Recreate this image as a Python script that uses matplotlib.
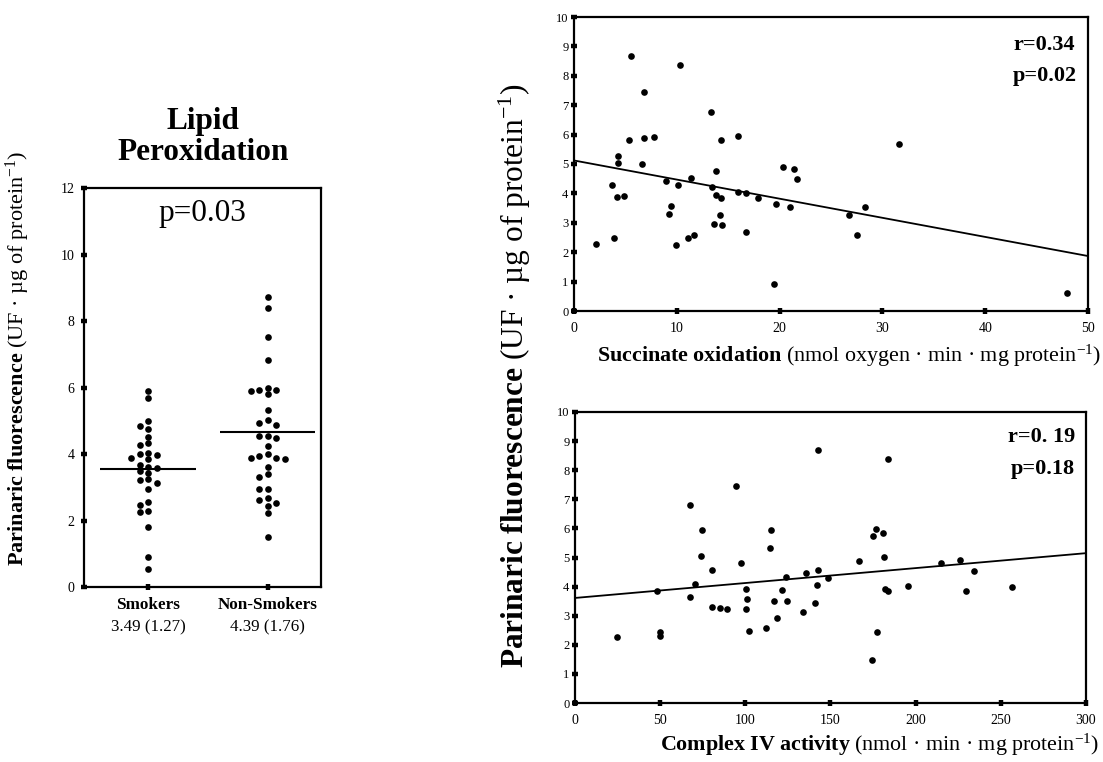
import matplotlib
matplotlib.use('Agg')
import matplotlib.pyplot as plt
import numpy as np

plt.rcParams['font.family'] = ['Liberation Serif', 'DejaVu Serif']
plt.rcParams['mathtext.fontset'] = 'custom'
plt.rcParams['mathtext.rm'] = 'Liberation Serif'
plt.rcParams['mathtext.bf'] = 'Liberation Serif:bold'
plt.rcParams['mathtext.it'] = 'Liberation Serif:italic'

# ---------------- data ----------------
categories = ['Smokers', 'Non-Smokers']
category_stats = ['3.49 (1.27)', '4.39 (1.76)']
smokers_values = [5.90, 5.67, 5.00, 4.85, 4.76, 4.52, 4.33, 4.26, 4.03, 4.00, 3.98,
                  3.87, 3.84, 3.68, 3.60, 3.57, 3.48, 3.42, 3.24, 3.21, 3.14, 2.94,
                  2.55, 2.48, 2.28, 2.26, 1.81, 0.89, 0.54]
nonsmokers_values = [8.72, 8.40, 7.51, 6.84, 6.00, 5.92, 5.92, 5.90, 5.81, 5.32, 5.01,
                     4.94, 4.86, 4.53, 4.53, 4.47, 4.24, 3.99, 3.93, 3.87, 3.87, 3.86,
                     3.60, 3.39, 3.31, 2.95, 2.94, 2.69, 2.61, 2.53, 2.44, 2.24, 1.49]
group_lines = [3.55, 4.66]
left_p_text = 'p=0.03'

succ_x = [5.5, 10.3, 6.8, 13.35, 5.36, 6.8, 7.8, 15.95, 14.26, 31.6, 4.28, 4.28, 6.6,
          20.3, 21.4, 21.7, 13.8, 11.4, 8.93, 10.15, 3.74, 13.45, 4.2, 4.86, 13.8,
          14.26, 15.95, 16.7, 17.87, 19.66, 21.0, 9.44, 9.27, 14.16, 26.74, 28.3,
          13.65, 14.43, 16.7, 11.63, 11.13, 27.5, 3.9, 2.1, 9.95, 19.5, 48.0]
succ_y = [8.67, 8.36, 7.45, 6.78, 5.83, 5.9, 5.92, 5.95, 5.8, 5.69, 5.28, 5.02, 5.0,
          4.91, 4.84, 4.48, 4.77, 4.54, 4.43, 4.27, 4.3, 4.22, 3.88, 3.9, 3.96,
          3.84, 4.06, 4.0, 3.85, 3.65, 3.54, 3.58, 3.31, 3.25, 3.27, 3.53,
          2.96, 2.93, 2.7, 2.6, 2.47, 2.6, 2.47, 2.29, 2.23, 0.91, 0.6]
succ_fit = [5.12, -0.065]          # intercept, slope
succ_stats = ['r=0.34', 'p=0.02']

cox_x = [142.8, 183.9, 94.5, 67.8, 74.7, 114.9, 176.8, 174.7, 180.9, 114.3, 74.1,
         181.5, 97.6, 166.8, 215.1, 225.9, 234.4, 80.2, 142.8, 135.8, 123.6, 148.3,
         70.7, 142.2, 48.1, 100.2, 121.8, 181.9, 183.9, 195.7, 256.4, 229.5, 67.4,
         101.2, 116.7, 124.4, 140.9, 80.2, 84.9, 89.0, 100.6, 133.6, 118.3, 112.2,
         102.0, 177.2, 49.7, 50.1, 24.4, 174.1]
cox_y = [8.70, 8.39, 7.47, 6.82, 5.95, 5.93, 5.99, 5.73, 5.84, 5.32, 5.05,
         5.02, 4.82, 4.87, 4.80, 4.92, 4.52, 4.56, 4.58, 4.46, 4.33, 4.29,
         4.09, 4.05, 3.85, 3.91, 3.89, 3.92, 3.86, 4.01, 3.98, 3.85, 3.64,
         3.58, 3.51, 3.51, 3.42, 3.30, 3.28, 3.23, 3.23, 3.12, 2.92, 2.57,
         2.49, 2.45, 2.44, 2.29, 2.26, 1.49]
cox_fit = [3.61, 0.00513]
cox_stats = ['r=0. 19', 'p=0.18']

left_yticks = [0, 2, 4, 6, 8, 10, 12]
right_yticks = list(range(0, 11))
succ_xticks = [0, 10, 20, 30, 40, 50]
cox_xticks = [0, 50, 100, 150, 200, 250, 300]

ylabel_text = r'$\mathbf{Parinaric\ fluorescence}$ (UF · µg of protein$^{-1}$)'
succ_label = r'$\mathbf{Succinate\ oxidation}$ (nmol oxygen · min · mg protein$^{-1}$)'
cox_label = r'$\mathbf{Complex\ IV\ activity}$ (nmol · min · mg protein$^{-1}$)'

# ---------------- figure ----------------
W, H = 1103, 762
fig = plt.figure(figsize=(W / 100, H / 100), dpi=100)

def px_axes(l, r, t, b):
    return fig.add_axes([l / W, 1 - b / H, (r - l) / W, (b - t) / H])

def style_axes(ax):
    for s in ax.spines.values():
        s.set_linewidth(1.6)
        s.set_color('black')
    ax.tick_params(direction='inout', length=4, width=3.2, colors='black')

MS = 4.8

# ---- left panel: dot plot ----
axL = px_axes(84, 321, 188, 587)
style_axes(axL)
axL.set_xlim(0.463, 2.447)
axL.set_ylim(0, 12)
positions = [1, 2]
fig.canvas.draw()

def swarm(ax, xc, values, min_dist_px, col_px):
    placed = []
    xs = []
    inv = ax.transData.inverted()
    order = [0] + [s * i for i in range(1, 12) for s in (-1, 1)]
    for v in values:
        px0, py = ax.transData.transform((xc, v))
        for c in order:
            px = px0 + c * col_px
            if all((px - qx) ** 2 + (py - qy) ** 2 >= min_dist_px ** 2
                   for qx, qy in placed):
                break
        placed.append((px, py))
        xs.append(inv.transform((px, py))[0])
    return xs

for pos, vals in zip(positions, [smokers_values, nonsmokers_values]):
    xs = swarm(axL, pos, vals, 5.6, 8.5)
    axL.plot(xs, vals, 'o', color='black', ms=MS, mew=0, zorder=3)
for pos, m in zip(positions, group_lines):
    axL.hlines(m, pos - 0.4, pos + 0.4, color='black', lw=1.5, zorder=2)

axL.set_yticks(left_yticks)
axL.set_yticklabels([str(t) for t in left_yticks], fontsize=10)
axL.set_xticks(positions)
axL.set_xticklabels(categories, fontsize=12.3, fontweight='bold')
axL.tick_params(axis='x', pad=5)
axL.tick_params(axis='y', pad=5)
for pos, st in zip(positions, category_stats):
    axL.text(pos, -0.102, st, transform=axL.get_xaxis_transform(),
             ha='center', va='center', fontsize=12.2)
axL.text(0.5, 0.937, left_p_text, transform=axL.transAxes, ha='center',
         va='center', fontsize=22.5)
fig.text(203 / W, 1 - 137 / H, 'Lipid\nPeroxidation', ha='center', va='center',
         fontsize=22.5, fontweight='bold', linespacing=1.12)
fig.text(18 / W, 1 - 358 / H, ylabel_text,
         rotation=90, ha='center', va='center', fontsize=16)

# ---- top-right: succinate oxidation ----
axT = px_axes(574, 1088, 17, 311)
style_axes(axT)
axT.plot(succ_x, succ_y, 'o', color='black', ms=MS, mew=0, zorder=3)
axT.set_xlim(0, 50)
axT.set_ylim(0, 10)
xl = np.array(axT.get_xlim())
axT.plot(xl, succ_fit[0] + succ_fit[1] * xl, color='black', lw=1.3)
axT.set_xticks(succ_xticks)
axT.set_xticklabels([str(t) for t in succ_xticks], fontsize=10)
axT.set_yticks(right_yticks)
axT.set_yticklabels([str(t) for t in right_yticks], fontsize=9)
axT.tick_params(axis='y', pad=2)
axT.tick_params(axis='x', pad=6)
axT.text(0.975, 0.905, succ_stats[0], transform=axT.transAxes, ha='right',
         va='center', fontsize=16, fontweight='bold')
axT.text(0.978, 0.80, succ_stats[1], transform=axT.transAxes, ha='right',
         va='center', fontsize=16, fontweight='bold')
fig.text(849 / W, 1 - 356 / H, succ_label,
         ha='center', va='center', fontsize=15.8)

# ---- bottom-right: complex IV ----
axB = px_axes(575, 1086, 412, 703)
style_axes(axB)
axB.plot(cox_x, cox_y, 'o', color='black', ms=MS, mew=0, zorder=3)
axB.set_xlim(0, 300)
axB.set_ylim(0, 10)
xl = np.array(axB.get_xlim())
axB.plot(xl, cox_fit[0] + cox_fit[1] * xl, color='black', lw=1.3)
axB.set_xticks(cox_xticks)
axB.set_xticklabels([str(t) for t in cox_xticks], fontsize=10)
axB.set_yticks(right_yticks)
axB.set_yticklabels([str(t) for t in right_yticks], fontsize=9)
axB.tick_params(axis='y', pad=2)
axB.tick_params(axis='x', pad=6)
axB.text(0.978, 0.914, cox_stats[0], transform=axB.transAxes, ha='right',
         va='center', fontsize=16, fontweight='bold')
axB.text(0.978, 0.804, cox_stats[1], transform=axB.transAxes, ha='right',
         va='center', fontsize=16, fontweight='bold')
fig.text(880 / W, 1 - 745 / H, cox_label,
         ha='center', va='center', fontsize=15.8)

# ---- shared big y label ----
fig.text(515 / W, 1 - 376 / H, ylabel_text,
         rotation=90, ha='center', va='center', fontsize=22.6)

fig.savefig('out.png', dpi=100, facecolor='white')
